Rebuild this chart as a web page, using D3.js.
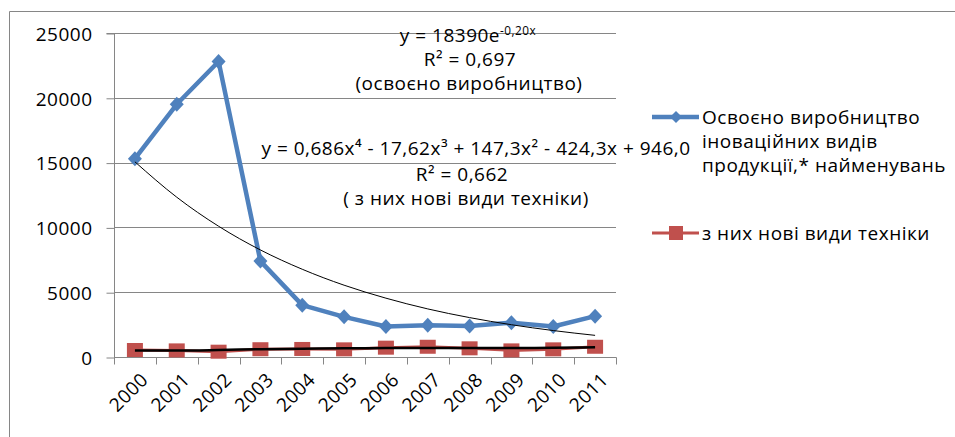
<!DOCTYPE html>
<html><head><meta charset="utf-8">
<script src="https://cdn.jsdelivr.net/npm/d3@7"></script>
<style>body{margin:0;background:#fff}svg{display:block}text{font-family:"Open Sans",sans-serif;fill:#000;letter-spacing:0.5px}</style>
</head><body><svg id="c" width="955" height="437"></svg>
<script>
const years = ["2000","2001","2002","2003","2004","2005","2006","2007","2008","2009","2010","2011"];
const produced = [15300,19500,22800,7400,4000,3100,2350,2450,2400,2650,2350,3150];
const newTech = [540,510,410,600,620,590,720,790,670,510,590,790];
const expTrend = [15060,12330,10090,8260,6770,5540,4540,3710,3040,2490,2040,1670];
const polyTrend = [510,500,540,600,640,670,690,700,700,700,710,745];
const yTicks = [0,5000,10000,15000,20000,25000];
const legendLines1 = ["Освоєно виробництво","іноваційних видів","продукції,* найменувань"];
const legendLines2 = ["з них нові види техніки"];
const FS = 19;

const svg = d3.select("#c");
const blue = "#4F81BD", red = "#C0504D", grid = "#868686";
// frame
svg.append("path").attr("d","M9.5,437 V11.5 H955").attr("fill","none").attr("stroke",grid).attr("stroke-width",1);

const x = d3.scaleBand().domain(years).range([114,616]).padding(0);
const y = d3.scaleLinear().domain([0,25000]).range([357,33]);
const cx = d => x(d) + x.bandwidth()/2;

// gridlines
svg.append("g").selectAll("line").data(yTicks.slice(1)).join("line")
  .attr("x1",114).attr("x2",616).attr("y1",d=>Math.round(y(d))+0.5).attr("y2",d=>Math.round(y(d))+0.5)
  .attr("stroke",grid).attr("stroke-width",1);

// y axis
const ya = svg.append("g").attr("transform","translate(114.5,0.5)")
  .call(d3.axisLeft(y).tickValues(yTicks).tickSize(8).tickPadding(14).tickFormat(d3.format("d")));
ya.select(".domain").attr("stroke",grid).attr("d","M-8,"+Math.round(y(25000))+"H0V"+Math.round(y(0)));
ya.selectAll(".tick line").attr("stroke",grid);
ya.selectAll(".tick text").attr("font-size",FS).attr("font-family","Open Sans").attr("fill","#000").attr("dy","0.36em");

// x axis
const xa = svg.append("g").attr("transform","translate(0,"+(Math.round(y(0))+0.5)+")");
xa.append("line").attr("x1",114).attr("x2",616.5).attr("stroke",grid);
const bounds = years.map(d=>x(d)).concat([616]);
xa.selectAll("line.tk").data(bounds).join("line").attr("class","tk")
  .attr("x1",d=>Math.round(d)+0.5).attr("x2",d=>Math.round(d)+0.5).attr("y1",0).attr("y2",7).attr("stroke",grid);
xa.selectAll("text").data(years).join("text")
  .attr("transform",d=>"translate("+(cx(d)+5)+",14) rotate(-45)")
  .attr("text-anchor","end").attr("dy","0.7em").attr("font-size",FS).text(d=>d);

// blue series
const line = d3.line().x((d,i)=>cx(years[i])).y(d=>y(d));
svg.append("path").datum(produced).attr("d",line).attr("fill","none").attr("stroke",blue).attr("stroke-width",4.5).attr("stroke-linejoin","round");
svg.append("g").selectAll("path").data(produced).join("path")
  .attr("d",(d,i)=>{const px=cx(years[i]),py=y(d);return `M${px},${py-7.5}L${px+7},${py}L${px},${py+7.5}L${px-7},${py}Z`;})
  .attr("fill",blue);

// red series
svg.append("path").datum(newTech).attr("d",line).attr("fill","none").attr("stroke",red).attr("stroke-width",3);
svg.append("g").selectAll("rect").data(newTech).join("rect")
  .attr("x",(d,i)=>cx(years[i])-8).attr("y",d=>y(d)-7).attr("width",16).attr("height",14).attr("fill",red);

// trendlines
const smooth = d3.line().x((d,i)=>cx(years[i])).y(d=>y(d)).curve(d3.curveMonotoneX);
svg.append("path").datum(expTrend).attr("d",smooth).attr("fill","none").attr("stroke","#000").attr("stroke-width",1);
svg.append("path").datum(polyTrend).attr("d",smooth).attr("fill","none").attr("stroke","#000").attr("stroke-width",2.5);

// equation labels
const t1 = svg.append("text").attr("x",468).attr("y",42).attr("text-anchor","middle").attr("font-size",FS);
t1.append("tspan").text("y = 18390e");
t1.append("tspan").attr("font-size",FS*0.62).attr("dy",-7).text("-0,20x");
svg.append("text").attr("x",470).attr("y",66).attr("text-anchor","middle").attr("font-size",FS).text("R² = 0,697");
svg.append("text").attr("x",469).attr("y",90).attr("text-anchor","middle").attr("font-size",FS).text("(освоєно виробництво)");
svg.append("text").attr("x",476).attr("y",155).attr("text-anchor","middle").attr("font-size",FS)
  .text("y = 0,686x⁴ - 17,62x³ + 147,3x² - 424,3x + 946,0");
svg.append("text").attr("x",462).attr("y",181).attr("text-anchor","middle").attr("font-size",FS).text("R² = 0,662");
svg.append("text").attr("x",466).attr("y",205).attr("text-anchor","middle").attr("font-size",FS).text("( з них нові види техніки)");

// legend
const lg = svg.append("g");
lg.append("line").attr("x1",652).attr("x2",699).attr("y1",117).attr("y2",117).attr("stroke",blue).attr("stroke-width",4.5);
lg.append("path").attr("d","M676,111L682,117L676,123L670,117Z").attr("fill",blue);
legendLines1.forEach((s,i)=>lg.append("text").attr("x",702).attr("y",124+i*24).attr("font-size",FS).text(s));
lg.append("line").attr("x1",652).attr("x2",699).attr("y1",233).attr("y2",233).attr("stroke",red).attr("stroke-width",3);
lg.append("rect").attr("x",669).attr("y",226).attr("width",14).attr("height",14).attr("fill",red);
legendLines2.forEach((s,i)=>lg.append("text").attr("x",702).attr("y",240+i*24).attr("font-size",FS).text(s));
</script></body></html>
